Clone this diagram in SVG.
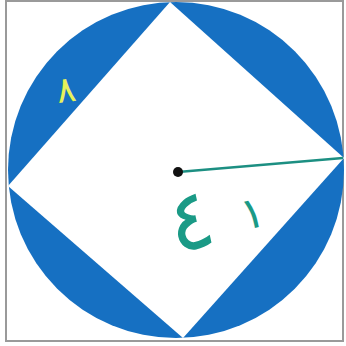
<svg xmlns="http://www.w3.org/2000/svg" width="346" height="346" viewBox="0 0 346 346">
<style>
.frame{fill:#ffffff;stroke:#9a9a9a;stroke-width:2}
.disc{fill:#1670c2}
.sq{fill:#ffffff}
.lbl{font-family:"DejaVu Sans",sans-serif}
</style>
<rect class="frame" x="6" y="1" width="337" height="340"/>
<g id="circle"><circle class="disc" cx="176" cy="170" r="168"/></g>
<g id="square"><polygon class="sq" points="170,2 344,158 183,338 8,186"/></g>
<g id="connectors"><line x1="178" y1="172" x2="343" y2="158" stroke="#1c8f82" stroke-width="2.5"/></g>
<g id="center"><circle cx="178" cy="172" r="5" fill="#111"/></g>
<g id="label8"><text class="lbl" x="66" y="102" font-size="36" fill="#e6f25a" text-anchor="middle" transform="rotate(-8 66 90)">٨</text></g>
<g id="label41"><text class="lbl" y="244" font-size="84" fill="#1a9a86" text-anchor="middle" direction="ltr" transform="rotate(-12 215 215)"><tspan x="190">٤</tspan><tspan x="252" dy="-8" font-size="44">١</tspan></text></g>
</svg>
